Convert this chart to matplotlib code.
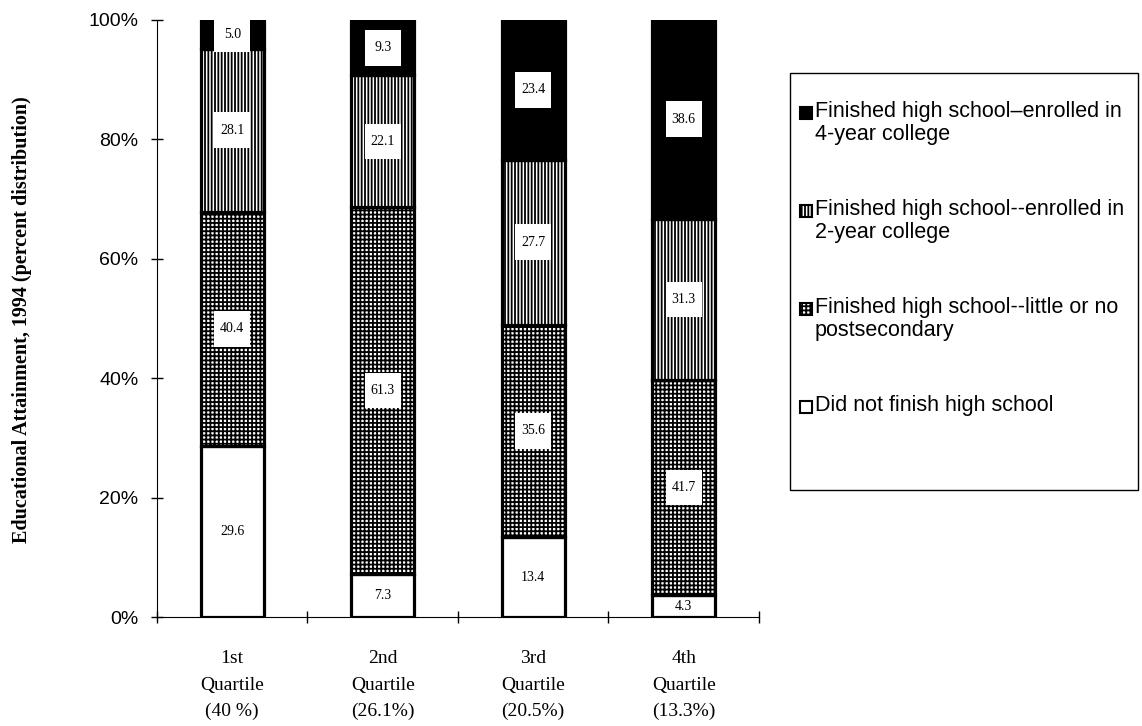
import numpy as np
import matplotlib.pyplot as plt
from matplotlib.patches import Rectangle

# percent distribution by family-income quartile (rows don't always sum to 100)
quartiles = ["1st\nQuartile\n(40 %)", "2nd\nQuartile\n(26.1%)",
             "3rd\nQuartile\n(20.5%)", "4th\nQuartile\n(13.3%)"]
no_diploma = [29.6, 7.3, 13.4, 4.3]
hs_only = [40.4, 61.3, 35.6, 41.7]
two_year = [28.1, 22.1, 27.7, 31.3]
four_year = [5.0, 9.3, 23.4, 38.6]

legend_labels = [
    "Finished high school\u2013enrolled in\n4-year college",
    "Finished high school--enrolled in\n2-year college",
    "Finished high school--little or no\npostsecondary",
    "Did not finish high school",
]

serif = "Liberation Serif"
sans = "Liberation Sans"
plt.rcParams["hatch.linewidth"] = 1.3

series = [no_diploma, hs_only, two_year, four_year]
looks = [dict(facecolor="white"),
         dict(facecolor="white", hatch="++++"),
         dict(facecolor="white", hatch="|||||"),
         dict(facecolor="black")]

totals = np.sum(series, axis=0)

fig = plt.figure(figsize=(11.42, 7.26), dpi=100)
ax = fig.add_axes([0.1375, 0.150, 0.527, 0.8225])

x = np.arange(len(quartiles))
bw = 0.42
box_w, box_h = 0.24, 6.0
bottom = np.zeros(len(quartiles))
for j, (vals, look) in enumerate(zip(series, looks)):
    pct = np.array(vals) / totals * 100
    ax.bar(x, pct, bw, bottom=bottom, edgecolor="black", linewidth=2.3, zorder=2, **look)
    mid = bottom + pct / 2
    for i in range(len(x)):
        if j > 0:
            ax.add_patch(Rectangle((x[i] - box_w / 2, mid[i] - box_h / 2), box_w, box_h,
                                   facecolor="white", edgecolor="none", zorder=3))
        ax.text(x[i], mid[i], f"{vals[i]:.1f}", ha="center", va="center",
                fontsize=10, family=serif, zorder=4)
    bottom += pct

ax.set_xlim(-0.5, 3.5)
ax.set_ylim(0, 100)
ax.set_yticks(np.arange(0, 101, 20))
ax.set_yticklabels([f"{t}%" for t in range(0, 101, 20)], family=sans, fontsize=14)
ax.set_xticks(np.arange(-0.5, 3.6, 1))
ax.set_xticklabels([])
ax.set_xticks(x, minor=True)
ax.set_xticklabels(quartiles, minor=True, family=serif, fontsize=14, linespacing=1.7)
ax.tick_params(which="major", direction="inout", length=9, width=1)
ax.tick_params(axis="y", pad=9)
ax.tick_params(which="minor", length=0, pad=24)
for s in ["top", "right"]:
    ax.spines[s].set_visible(False)

fig.text(22 / 1142, 1 - 320 / 726, "Educational Attainment, 1994 (percent distribution)",
         rotation=90, ha="center", va="center", family=serif, fontweight="bold", fontsize=14.5)

# legend box on the right
W, H = 1142, 726
fig.add_artist(Rectangle((790 / W, 1 - 490 / H), (1138 - 790) / W, (490 - 73) / H,
                         transform=fig.transFigure, facecolor="none", edgecolor="black",
                         linewidth=1))
entry_y = [113, 211, 309, 407]
for lab, look, yy in zip(legend_labels, looks[::-1], entry_y):
    fig.add_artist(Rectangle((800 / W, 1 - (yy + 6) / H), 12 / W, 12 / H,
                             transform=fig.transFigure, edgecolor="black",
                             linewidth=1.5, **look))
    fig.text(815 / W, 1 - (yy - 12) / H, lab, ha="left", va="top", family=sans,
             fontsize=15.5, linespacing=1.15)

fig.savefig("out.png", dpi=100)
